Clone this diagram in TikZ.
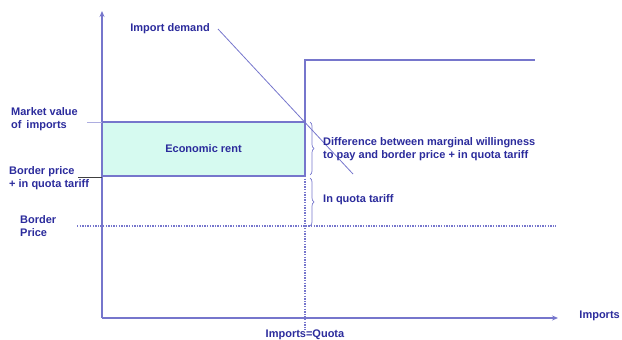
\documentclass[tikz,border=0pt]{standalone}
\usepackage{fontspec}
\setmainfont{Liberation Sans}
\usetikzlibrary{decorations.pathreplacing,arrows.meta}
\definecolor{ln}{HTML}{7676CC}
\definecolor{tx}{HTML}{2B2B9C}
\definecolor{rent}{HTML}{D6FAF0}
\tikzset{
  lbl/.style={text=tx,font=\fontsize{11}{12.5}\selectfont\bfseries,inner sep=0pt},
  axis/.style={draw=ln,line width=1.3pt,-{Stealth[length=6pt,width=5pt]}},
  curve/.style={draw=ln,line width=1.3pt},
  dot/.style={draw=ln,line width=1.3pt,dash pattern=on 1.3pt off 1.3pt},
  brc/.style={draw=ln,line width=0.7pt,decorate,decoration={brace,amplitude=4pt}}
}
\begin{document}
\begin{tikzpicture}[x=1pt,y=-1pt]
\useasboundingbox (0,0) rectangle (622,340);
% axes
\coordinate (o) at (102,318);
\coordinate (ytop) at (102,11);
\coordinate (xend) at (558,318);
\draw[axis] (o) -- (ytop);
\draw[axis] (o) -- (xend);
% rent rectangle
\coordinate (r1) at (102,122);
\coordinate (r2) at (305,176);
\filldraw[fill=rent,draw=ln,line width=1.5pt] (r1) rectangle (r2);
\node[lbl] (rentlbl) at (203.5,149) {Economic rent};
% guide lines to labels
\coordinate (mvl) at (87,122);
\coordinate (bpl) at (78,177);
\draw[draw=ln!60,line width=0.6pt] (mvl) -- (r1);
\draw[draw=black!75,line width=0.9pt] (bpl) -- (102,177);
% supply (quota) line
\coordinate (q0) at (305,176);
\coordinate (q1) at (305,60);
\coordinate (q2) at (535,60);
\coordinate (qb) at (305,330);
\draw[curve] (q0) -- (q1) -- (q2);
\draw[dot] (q0) -- (qb);
% border price dotted line
\coordinate (bp0) at (77,226);
\coordinate (bp1) at (556,226);
\draw[dot] (bp0) -- (bp1);
% import demand
\node[lbl,anchor=east] (dem) at (210,29) {Import demand};
\coordinate (d1) at (353,174);
\draw[draw=ln,line width=0.8pt] (dem.east)++(8,0) -- (d1);
% braces
\draw[brc] (310,122) -- (310,175);
\draw[brc] (310,178) -- (310,226);
% labels
\node[lbl,anchor=west,align=left] (diff) at (323,149) {Difference between marginal willingness\\to pay and border price + in quota tariff};
\node[lbl,anchor=west] (iqt) at (323,200) {In quota tariff};
\node[lbl,anchor=west,align=left] (mv) at (11,119) {Market value\\ of\, imports};
\node[lbl,anchor=west,align=left] (bpt) at (9,178) {Border price\\+ in quota tariff};
\node[lbl,anchor=west,align=left] (bpr) at (20,226) {Border\\Price};
\node[lbl,anchor=east] (imp) at (620,316) {Imports};
\node[lbl,anchor=south] (iq) at (305,339.5) {Imports=Quota};
\end{tikzpicture}
\end{document}
